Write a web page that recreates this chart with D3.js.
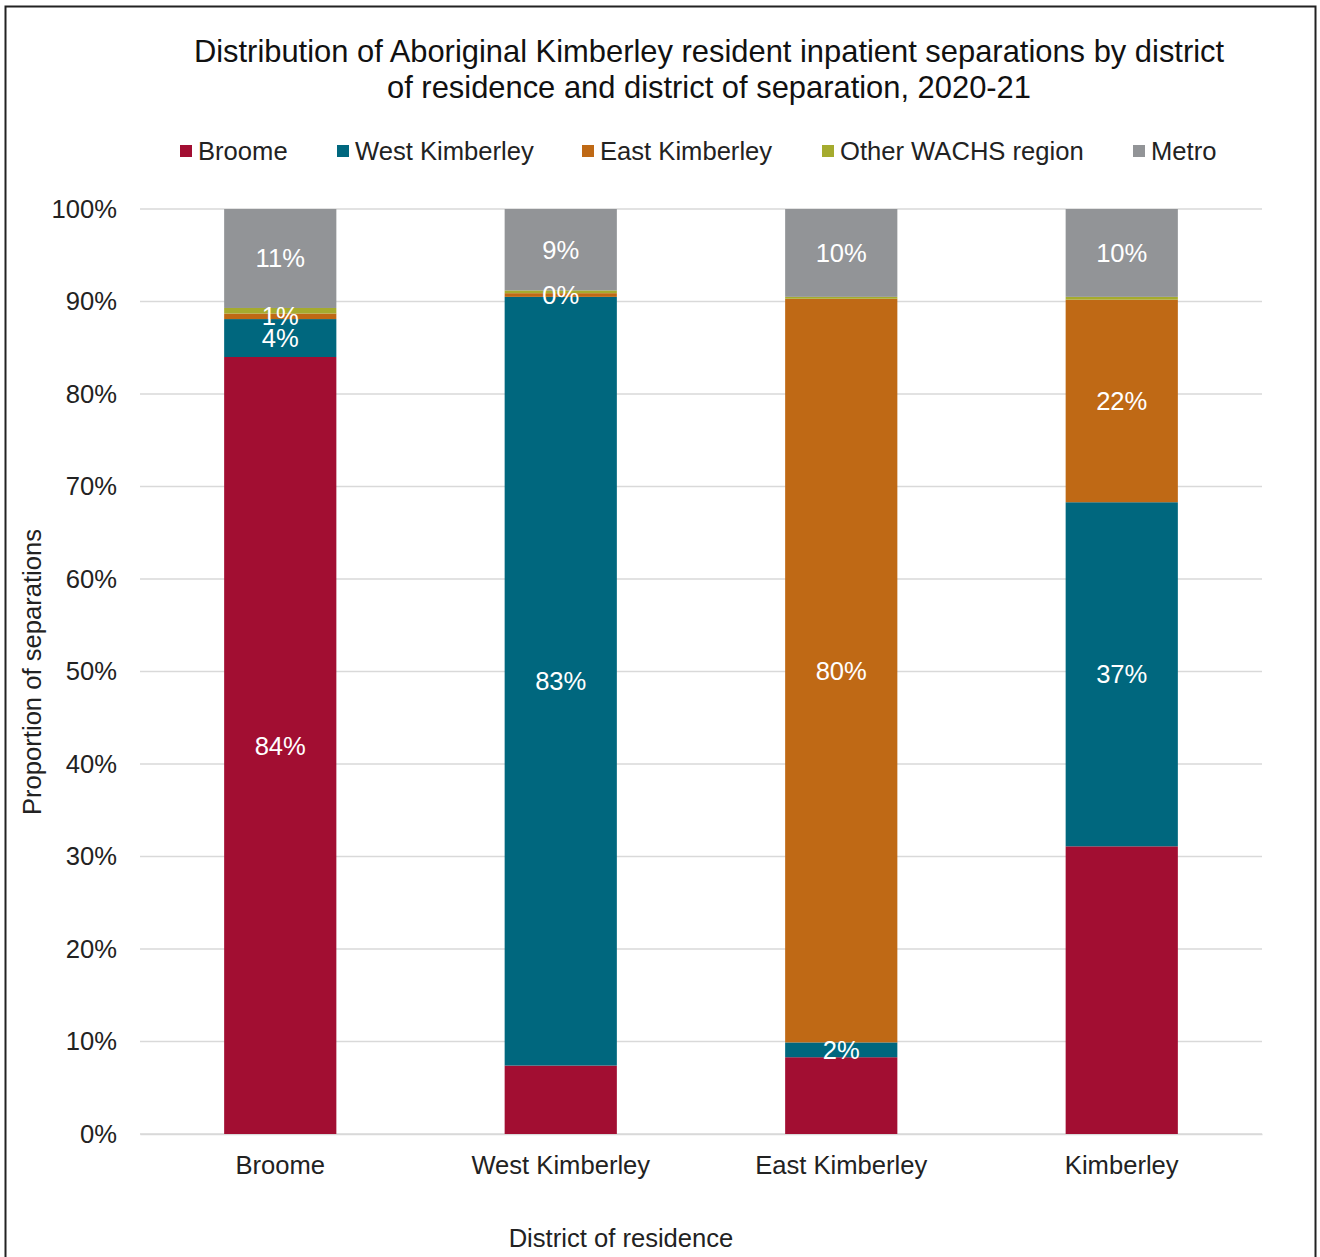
<!DOCTYPE html>
<html><head><meta charset="utf-8">
<script src="https://cdn.jsdelivr.net/npm/d3@7"></script>
<style>body{margin:0;background:#fff}svg{display:block;font-family:"Liberation Sans",Arial,sans-serif}</style>
</head><body>
<svg id="c" width="1320" height="1257"></svg>
<script>
const categories = ["Broome","West Kimberley","East Kimberley","Kimberley"];
const seriesNames = ["Broome","West Kimberley","East Kimberley","Other WACHS region","Metro"];
const seriesColors = ["#A20E32","#00677E","#BF6915","#A5AB2E","#929497"];
const broomeVals  = [84.0, 7.4, 8.3, 31.1];
const westVals    = [4.1, 83.1, 1.6, 37.2];
const eastVals    = [0.6, 0.4, 80.4, 21.9];
const otherVals   = [0.6, 0.3, 0.2, 0.3];
const metroVals   = [10.7, 8.8, 9.5, 9.5];
// which segment labels are shown (per series, per category)
const broomeShow = [true,false,false,false];
const westShow   = [true,true,true,true];
const eastShow   = [true,true,true,true];
const otherShow  = [false,false,false,false];
const metroShow  = [true,true,true,true];
const yTicks = [0,10,20,30,40,50,60,70,80,90,100];
const titleLines = ["Distribution of Aboriginal Kimberley resident inpatient separations by district","of residence and district of separation, 2020-21"];

const seriesVals = [broomeVals,westVals,eastVals,otherVals,metroVals];
const seriesShow = [broomeShow,westShow,eastShow,otherShow,metroShow];
const keys = ["s0","s1","s2","s3","s4"];
const rows = categories.map((c,i)=>{const r={cat:c};keys.forEach((k,j)=>r[k]=seriesVals[j][i]);return r;});
const stack = d3.stack().keys(keys)(rows);
const FS = 25.6;

const svg = d3.select("#c");
svg.append("rect").attr("x",5.5).attr("y",6.5).attr("width",1310).attr("height",1262)
  .attr("fill","#fff").attr("stroke","#222").attr("stroke-width",2);

const x = d3.scaleBand().domain(categories).range([140,1262]).paddingInner(0.6).paddingOuter(0.3);
const y = d3.scaleLinear().domain([0,100]).range([1134,209]);

// gridlines
svg.append("g").selectAll("line").data(yTicks).join("line")
  .attr("x1",140).attr("x2",1262).attr("y1",d=>y(d)).attr("y2",d=>y(d))
  .attr("stroke","#d9d9d9").attr("stroke-width",1.5);

// y axis
const yAxis = svg.append("g").attr("transform","translate(140,0)")
  .call(d3.axisLeft(y).tickValues(yTicks).tickFormat(d=>d+"%").tickSize(0).tickPadding(23));
yAxis.select(".domain").remove();
yAxis.selectAll("text").attr("font-size",FS).attr("fill","#222").attr("font-family","Liberation Sans, Arial, sans-serif");

// x axis
const xAxis = svg.append("g").attr("transform","translate(0,1134)")
  .call(d3.axisBottom(x).tickSize(0).tickPadding(22));
xAxis.select(".domain").attr("stroke","#d9d9d9").attr("stroke-width",1.5);
xAxis.selectAll("text").attr("font-size",FS).attr("fill","#222").attr("font-family","Liberation Sans, Arial, sans-serif");

// bars
const layers = svg.append("g").selectAll("g").data(stack).join("g").attr("fill",(d,i)=>seriesColors[i]);
layers.selectAll("rect").data(d=>d).join("rect")
  .attr("x",d=>x(d.data.cat)).attr("width",x.bandwidth())
  .attr("y",d=>y(d[1])).attr("height",d=>y(d[0])-y(d[1]));

// labels
stack.forEach((layer,si)=>{
  layer.forEach((d,ci)=>{
    if(!seriesShow[si][ci]) return;
    svg.append("text").attr("x",x(d.data.cat)+x.bandwidth()/2).attr("y",(y(d[0])+y(d[1]))/2)
      .attr("text-anchor","middle").attr("dominant-baseline","central")
      .attr("font-size",FS).attr("fill","#fff")
      .text(Math.round(seriesVals[si][ci])+"%");
  });
});

// title
svg.append("g").selectAll("text").data(titleLines).join("text")
  .attr("x",709).attr("y",(d,i)=>62+i*36).attr("text-anchor","middle")
  .attr("font-size",30.9).attr("fill","#111").text(d=>d);

// legend
const legX = [180,337,582,822,1133];
const leg = svg.append("g").selectAll("g").data(seriesNames).join("g")
  .attr("transform",(d,i)=>`translate(${legX[i]},151)`);
leg.append("rect").attr("x",0).attr("y",-6).attr("width",12).attr("height",12).attr("fill",(d,i)=>seriesColors[i]);
leg.append("text").attr("x",18).attr("y",0).attr("dominant-baseline","central")
  .attr("font-size",FS).attr("fill","#222").text(d=>d);

// axis titles
svg.append("text").attr("transform","translate(41,672) rotate(-90)").attr("text-anchor","middle")
  .attr("font-size",FS).attr("fill","#222").text("Proportion of separations");
svg.append("text").attr("x",621).attr("y",1247).attr("text-anchor","middle")
  .attr("font-size",FS).attr("fill","#222").text("District of residence");
</script>
</body></html>
